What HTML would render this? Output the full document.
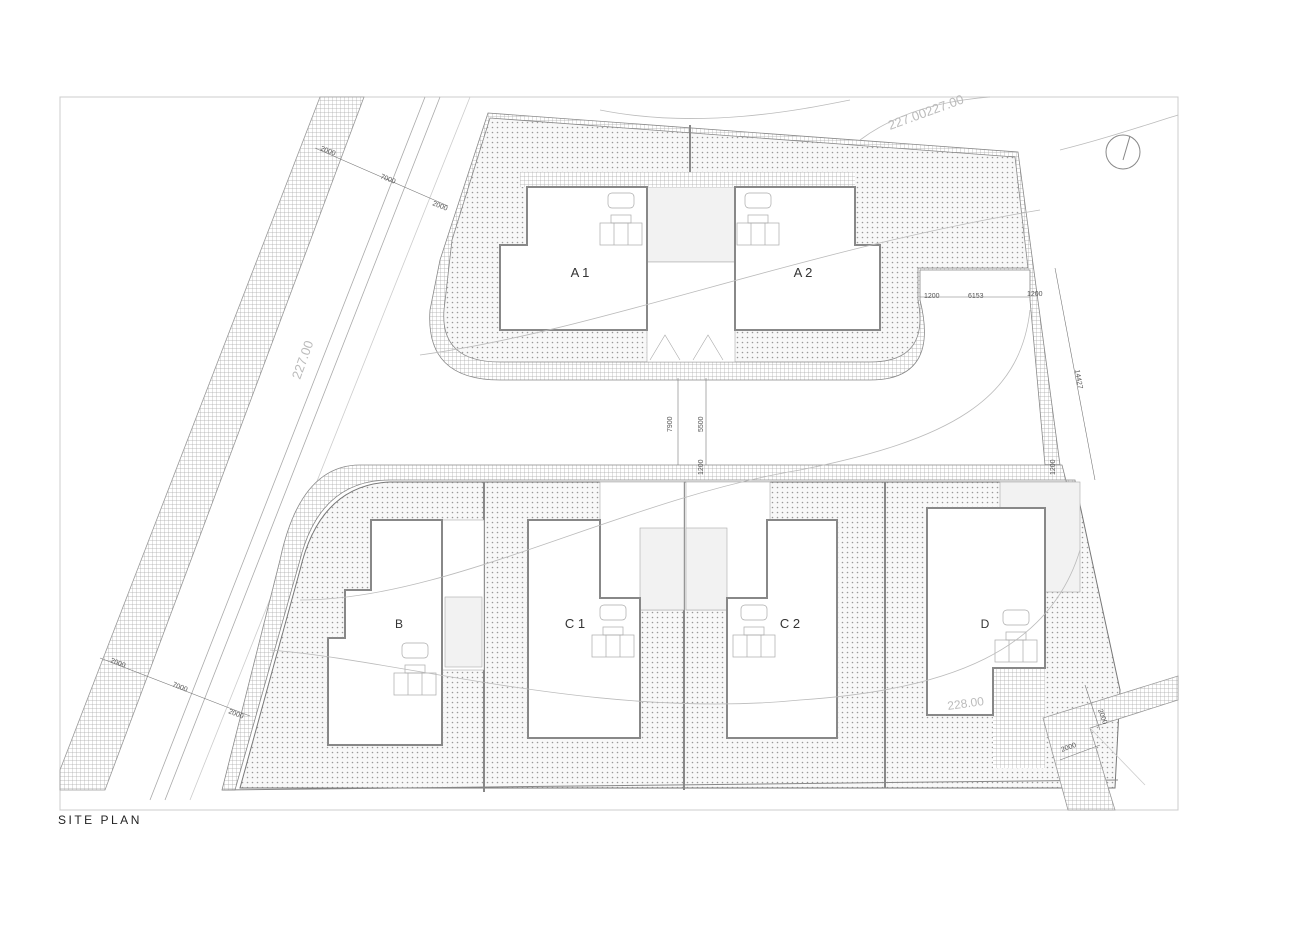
<!DOCTYPE html>
<html><head><meta charset="utf-8"><style>
html,body{margin:0;padding:0;background:#fff;}
svg{display:block;font-family:"Liberation Sans",sans-serif;}
</style></head><body>
<svg width="1308" height="925" viewBox="0 0 1308 925" xmlns="http://www.w3.org/2000/svg">
<defs>
<pattern id="dots" width="5" height="5" patternUnits="userSpaceOnUse"><rect width="5" height="5" fill="#f8f8f8"/><circle cx="2.5" cy="2.5" r="0.8" fill="#999"/></pattern>
<pattern id="grid" width="4" height="4" patternUnits="userSpaceOnUse"><rect width="4" height="4" fill="#fff"/><path d="M0 0H4M0 0V4" stroke="#aaa" stroke-width="0.7"/></pattern>
<pattern id="lg" width="8" height="8" patternUnits="userSpaceOnUse"><rect width="8" height="8" fill="#f2f2f2"/></pattern>
</defs>
<rect width="1308" height="925" fill="#fff"/>
<rect x="60" y="97" width="1118" height="713" fill="none" stroke="#ccc" stroke-width="1"/>

<polygon points="320,97 364,97 105,790 60,790 60,770" fill="url(#grid)" stroke="#999" stroke-width="0.8"/>
<line x1="425" y1="97" x2="150" y2="800" stroke="#aaa" stroke-width="0.8"/>
<line x1="440" y1="97" x2="165" y2="800" stroke="#aaa" stroke-width="0.8"/>
<line x1="470" y1="97" x2="190" y2="800" stroke="#ccc" stroke-width="0.8"/>

<path d="M488,113 L1018,152 L1060,465 L1045,465 L1030,300 L1030,270 L920,270 L920,300 Q940,380 870,380 L500,380 Q425,380 430,310 L440,260 Z" fill="url(#grid)" stroke="#888" stroke-width="0.8"/>
<path d="M490,118 L1015,157 L1028,268 L918,268 L918,300 Q930,362 870,362 L500,362 Q440,362 444,310 L452,240 Z" fill="url(#dots)" stroke="#888" stroke-width="0.8"/>
<line x1="690" y1="125" x2="690" y2="362" stroke="#888" stroke-width="2"/>
<rect x="647" y="187" width="88" height="75" fill="url(#lg)" stroke="#aaa" stroke-width="0.6"/>
<rect x="647" y="262" width="88" height="100" fill="#fff" stroke="#aaa" stroke-width="0.6"/>
<rect x="520" y="172" width="335" height="15" fill="url(#grid)"/>
<path d="M650,360 L665,335 L680,360 M693,360 L708,335 L723,360" fill="none" stroke="#aaa" stroke-width="0.6"/>
<polygon points="527,187 647,187 647,330 500,330 500,245 527,245" fill="#fff" stroke="#888" stroke-width="2"/>
<polygon points="735,187 855,187 855,245 880,245 880,330 735,330" fill="#fff" stroke="#888" stroke-width="2"/>
<text x="580" y="277" font-size="13" fill="#333" text-anchor="middle">A 1</text>
<text x="803" y="277" font-size="13" fill="#333" text-anchor="middle">A 2</text>

<text x="968" y="298" font-size="7" fill="#555">6153</text>
<text x="924" y="298" font-size="7" fill="#555">1200</text>
<text x="1027" y="296" font-size="7" fill="#555">1200</text>
<line x1="920" y1="297" x2="1030" y2="297" stroke="#777" stroke-width="0.6"/>
<line x1="1055" y1="268" x2="1095" y2="480" stroke="#777" stroke-width="0.6"/>
<text x="1075" y="370" font-size="7" fill="#555" transform="rotate(80 1075 370)">14427</text>

<path d="M360,465 L1062,465 L1120,690 L1100,690 L1075,480 L390,480 Q320,480 300,560 L235,790 L222,790 L280,560 Q300,465 360,465 Z" fill="url(#grid)" stroke="#888" stroke-width="0.8"/>
<path d="M390,482 L1075,482 L1120,690 L1115,788 L240,788 L300,570 Q320,485 390,482 Z" fill="url(#dots)" stroke="#777" stroke-width="1"/>
<line x1="222" y1="790" x2="1118" y2="780" stroke="#888" stroke-width="1"/>
<line x1="484" y1="482" x2="484" y2="792" stroke="#888" stroke-width="2"/>
<line x1="684" y1="482" x2="684" y2="790" stroke="#888" stroke-width="2"/>
<line x1="885" y1="482" x2="885" y2="788" stroke="#888" stroke-width="2"/>
<rect x="442" y="520" width="42" height="150" fill="#fff" stroke="#aaa" stroke-width="0.6"/>
<rect x="445" y="597" width="37" height="70" fill="url(#lg)" stroke="#aaa" stroke-width="0.6"/>
<rect x="600" y="482" width="84" height="128" fill="#fff" stroke="#aaa" stroke-width="0.6"/>
<rect x="640" y="528" width="44" height="82" fill="url(#lg)" stroke="#aaa" stroke-width="0.6"/>
<rect x="686" y="482" width="84" height="128" fill="#fff" stroke="#aaa" stroke-width="0.6"/>
<rect x="686" y="528" width="41" height="82" fill="url(#lg)" stroke="#aaa" stroke-width="0.6"/>
<rect x="1000" y="482" width="80" height="110" fill="url(#lg)" stroke="#aaa" stroke-width="0.6"/>
<rect x="993" y="668" width="52" height="100" fill="url(#grid)"/>
<polygon points="371,520 442,520 442,745 328,745 328,638 345,638 345,590 371,590" fill="#fff" stroke="#888" stroke-width="2"/>
<polygon points="528,520 600,520 600,598 640,598 640,738 528,738" fill="#fff" stroke="#888" stroke-width="2"/>
<polygon points="767,520 837,520 837,738 727,738 727,598 767,598" fill="#fff" stroke="#888" stroke-width="2"/>
<polygon points="927,508 1045,508 1045,668 993,668 993,715 927,715" fill="#fff" stroke="#888" stroke-width="2"/>
<text x="399" y="628" font-size="12" fill="#333" text-anchor="middle">B</text>
<text x="575" y="628" font-size="13" fill="#333" text-anchor="middle">C 1</text>
<text x="790" y="628" font-size="13" fill="#333" text-anchor="middle">C 2</text>
<text x="985" y="628" font-size="12" fill="#333" text-anchor="middle">D</text>

<g fill="none" stroke="#aaa" stroke-width="0.7">
<g transform="translate(600,193)"><rect x="8" y="0" width="26" height="15" rx="4"/><rect x="11" y="22" width="20" height="8"/><rect x="0" y="30" width="42" height="22"/><line x1="14" y1="30" x2="14" y2="52"/><line x1="28" y1="30" x2="28" y2="52"/></g>
<g transform="translate(737,193)"><rect x="8" y="0" width="26" height="15" rx="4"/><rect x="11" y="22" width="20" height="8"/><rect x="0" y="30" width="42" height="22"/><line x1="14" y1="30" x2="14" y2="52"/><line x1="28" y1="30" x2="28" y2="52"/></g>
<g transform="translate(394,643)"><rect x="8" y="0" width="26" height="15" rx="4"/><rect x="11" y="22" width="20" height="8"/><rect x="0" y="30" width="42" height="22"/><line x1="14" y1="30" x2="14" y2="52"/><line x1="28" y1="30" x2="28" y2="52"/></g>
<g transform="translate(592,605)"><rect x="8" y="0" width="26" height="15" rx="4"/><rect x="11" y="22" width="20" height="8"/><rect x="0" y="30" width="42" height="22"/><line x1="14" y1="30" x2="14" y2="52"/><line x1="28" y1="30" x2="28" y2="52"/></g>
<g transform="translate(733,605)"><rect x="8" y="0" width="26" height="15" rx="4"/><rect x="11" y="22" width="20" height="8"/><rect x="0" y="30" width="42" height="22"/><line x1="14" y1="30" x2="14" y2="52"/><line x1="28" y1="30" x2="28" y2="52"/></g>
<g transform="translate(995,610)"><rect x="8" y="0" width="26" height="15" rx="4"/><rect x="11" y="22" width="20" height="8"/><rect x="0" y="30" width="42" height="22"/><line x1="14" y1="30" x2="14" y2="52"/><line x1="28" y1="30" x2="28" y2="52"/></g>
</g>

<polygon points="1043,718 1178,676 1178,700 1090,728 1115,810 1068,810" fill="url(#grid)" stroke="#999" stroke-width="0.8"/>
<line x1="1090" y1="728" x2="1145" y2="785" stroke="#ccc" stroke-width="0.8"/>

<g fill="none" stroke="#bbb" stroke-width="0.8">
<path d="M420,355 C600,330 800,250 1040,210"/>
<path d="M300,600 C450,600 620,500 800,470 C950,440 1020,400 1030,310"/>
<path d="M270,650 C400,660 600,720 800,700 C950,690 1050,650 1080,550"/>
<path d="M600,110 C700,130 800,110 850,100"/>
<path d="M1060,150 C1100,140 1130,130 1178,115"/>
<path d="M860,140 C900,110 950,100 990,97"/>
</g>
<text x="890" y="130" font-size="13" fill="#bbb" transform="rotate(-20 890 130)">227.00227.00</text>
<text x="300" y="380" font-size="13" fill="#bbb" transform="rotate(-70 300 380)">227.00</text>
<text x="948" y="710" font-size="12" fill="#bbb" transform="rotate(-8 948 710)">228.00</text>

<g stroke="#777" stroke-width="0.6">
<line x1="315" y1="148" x2="448" y2="206"/>
<line x1="100" y1="658" x2="250" y2="716"/>
<line x1="678" y1="378" x2="678" y2="465"/>
<line x1="706" y1="378" x2="706" y2="465"/>
<line x1="1085" y1="685" x2="1100" y2="730"/>
<line x1="1060" y1="760" x2="1100" y2="745"/>
</g>
<g font-size="7" fill="#555">
<text x="320" y="150" transform="rotate(22 320 150)">2000</text>
<text x="380" y="178" transform="rotate(22 380 178)">7000</text>
<text x="432" y="205" transform="rotate(22 432 205)">2000</text>
<text x="110" y="662" transform="rotate(22 110 662)">2000</text>
<text x="172" y="686" transform="rotate(22 172 686)">7000</text>
<text x="228" y="713" transform="rotate(22 228 713)">2000</text>
<text x="672" y="432" transform="rotate(-90 672 432)">7900</text>
<text x="703" y="432" transform="rotate(-90 703 432)">5500</text>
<text x="703" y="475" transform="rotate(-90 703 475)">1200</text>
<text x="1055" y="475" transform="rotate(-90 1055 475)">1200</text>
<text x="1062" y="752" transform="rotate(-20 1062 752)">2000</text>
<text x="1098" y="710" transform="rotate(70 1098 710)">2000</text>
</g>

<circle cx="1123" cy="152" r="17" fill="none" stroke="#888" stroke-width="1"/>
<line x1="1123" y1="160" x2="1130" y2="136" stroke="#888" stroke-width="1"/>

<text x="58" y="824" font-size="12" fill="#222" letter-spacing="2.5">SITE PLAN</text>
</svg>
</body></html>
